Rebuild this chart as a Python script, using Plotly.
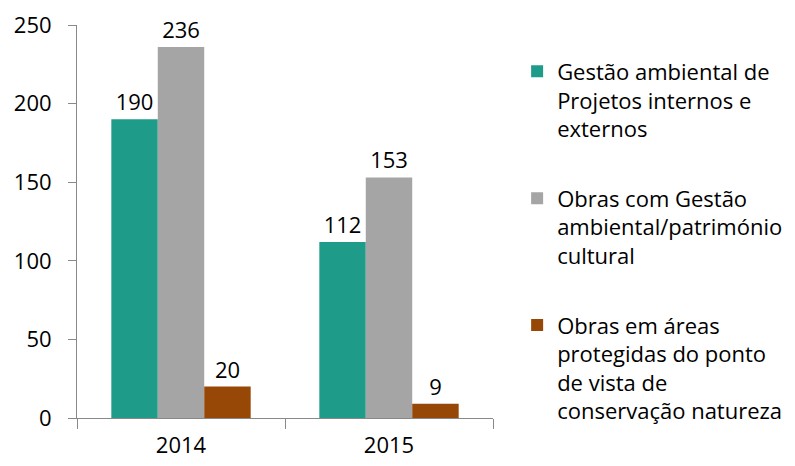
import plotly.graph_objects as go

years = ["2014", "2015"]
series_names = [
    "Gestão ambiental de<br>Projetos internos e<br>externos",
    "Obras com Gestão<br>ambiental/património<br>cultural",
    "Obras em áreas<br>protegidas do ponto<br>de vista de<br>conservação natureza",
]
gestao_ambiental = [190, 112]
obras_patrimonio = [236, 153]
obras_areas_protegidas = [20, 9]
colors = ["#1f9c89", "#a5a5a5", "#974806"]

fig = go.Figure()
for i, (name, vals) in enumerate(zip(series_names, [gestao_ambiental, obras_patrimonio, obras_areas_protegidas])):
    fig.add_trace(go.Bar(
        x=years, y=vals, name=name, legendgroup=str(i),
        marker_color=colors[i], marker_line_width=0,
        text=vals, textposition="outside", cliponaxis=False,
        textfont=dict(size=22, color="#000000"),
    ))

# page body has an 8px margin, so margins are shifted by 8px
fig.update_layout(
    template="simple_white",
    width=795, height=466,
    margin=dict(l=69, r=310, t=17, b=56, autoexpand=False),
    font=dict(family="Open Sans, sans-serif", size=22, color="#000000"),
    barmode="group", bargap=0.33, bargroupgap=0,
    showlegend=True,
    legend=dict(x=1.058, y=0.935, xanchor="left", yanchor="top",
                valign="top", tracegroupgap=38, itemwidth=30,
                font=dict(size=22)),
)
fig.update_xaxes(showline=True, linecolor="#898989", tickson="boundaries",
                 ticks="outside", ticklen=10, tickcolor="#898989",
                 tickfont=dict(size=22), automargin=False, ticklabelstandoff=8)
fig.update_yaxes(range=[0, 250], dtick=50, showline=True, linecolor="#898989",
                 ticks="outside", ticklen=8, tickcolor="#898989",
                 tickfont=dict(size=22), showgrid=False, automargin=False,
                 ticklabelstandoff=12)

fig.write_html("out.html")
